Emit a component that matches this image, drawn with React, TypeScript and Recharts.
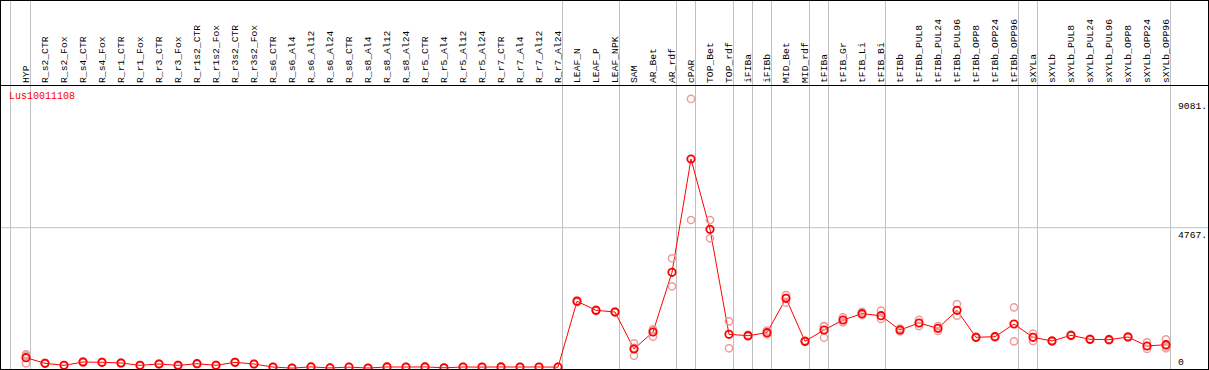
import React from "react";
import {
  ComposedChart,
  Line,
  Scatter,
  XAxis,
  YAxis,
  ReferenceLine,
} from "recharts";

const geneName = "Lus10011108";

const categories = [
  "HYP", "R_s2_CTR", "R_s2_Fox", "R_s4_CTR", "R_s4_Fox", "R_r1_CTR", "R_r1_Fox",
  "R_r3_CTR", "R_r3_Fox", "R_r1s2_CTR", "R_r1s2_Fox", "R_r3s2_CTR", "R_r3s2_Fox",
  "R_s6_CTR", "R_s6_Al4", "R_s6_Al12", "R_s6_Al24", "R_s8_CTR", "R_s8_Al4",
  "R_s8_Al12", "R_s8_Al24", "R_r5_CTR", "R_r5_Al4", "R_r5_Al12", "R_r5_Al24",
  "R_r7_CTR", "R_r7_Al4", "R_r7_Al12", "R_r7_Al24", "LEAF_N", "LEAF_P",
  "LEAF_NPK", "SAM", "AR_Bet", "AR_rdf", "cPAR", "TOP_Bet", "TOP_rdf", "iFIBa",
  "iFIBb", "MID_Bet", "MID_rdf", "tFIBa", "tFIB_Gr", "tFIB_Li", "tFIB_Bi",
  "tFIBb", "tFIBb_PUL8", "tFIBb_PUL24", "tFIBb_PUL96", "tFIBb_OPP8",
  "tFIBb_OPP24", "tFIBb_OPP96", "sXYLa", "sXYLb", "sXYLb_PUL8", "sXYLb_PUL24",
  "sXYLb_PUL96", "sXYLb_OPP8", "sXYLb_OPP24", "sXYLb_OPP96",
];

const meanValues = [
  412, 224, 157, 268, 258, 235, 157, 201, 157, 211, 157, 258, 201,
  98, 64, 104, 70, 96, 66, 102, 99, 103, 75, 100, 97, 102, 99, 101, 96,
  2302, 2000, 1943, 704, 1273, 3273, 7069, 4714, 1196, 1149, 1250, 2402, 961,
  1340, 1675, 1886, 1819, 1340, 1575, 1396, 2000, 1095, 1116, 1541,
  1095, 972, 1162, 1028, 1015, 1106, 804, 848,
];

const replicateValues = [
  [526, 224, 486], [240, 208], [150, 165], [290, 246], [270, 246], [250, 220],
  [165, 150], [215, 188], [175, 140], [225, 198], [170, 145], [270, 246], [210, 192],
  [106, 90], [72, 56], [112, 96], [78, 62], [104, 88], [74, 58], [110, 94],
  [107, 91], [111, 95], [83, 67], [108, 92], [105, 89], [110, 94], [107, 91],
  [109, 93], [104, 88],
  [2330, 2275], [2020, 1980], [1960, 1925], [894, 479, 739], [1364, 1116, 1340],
  [3742, 2804], [9081, 5025], [5025, 4412], [1631, 727], [1175, 1125], [1317, 1196],
  [2513, 2255], [985, 940], [1474, 1082, 1464], [1765, 1598], [1950, 1840],
  [1987, 1709], [1390, 1290], [1680, 1470], [1307, 1470], [2211, 1819],
  [1110, 1080], [1130, 1100], [2100, 961], [1216, 972], [990, 955], [1180, 1145],
  [1045, 1010], [1035, 995], [1125, 1090], [928, 704], [1028, 727, 790],
];

// y-axis labels shown on the right
const tickValues = [0, 4767, 9081];

// category index after which a group separator is drawn
const groupBreaks = [0, 28, 31, 34, 35, 37, 38, 39, 41, 42, 45, 52, 53, 60];

const chartData = categories.map((name, i) => ({ x: i, name, mean: meanValues[i] }));
const replicateData = replicateValues.flatMap((reps, i) =>
  reps.map((v) => ({ x: i, rep: v }))
);

const MONO = "'Liberation Mono', 'DejaVu Sans Mono', monospace";

const CategoryTick = (props: any) => {
  const { x, payload } = props;
  return (
    <text
      transform={`translate(${Math.round(x) + 3},83) rotate(-90)`}
      textAnchor="start"
      fontFamily={MONO}
      fontSize={9.7}
      fill="#000"
    >
      {categories[payload.value]}
    </text>
  );
};

const ValueTick = (props: any) => {
  const { y, payload } = props;
  const v = payload.value;
  return (
    <text
      x={1178}
      y={Math.min(y + 10, 365)}
      fontFamily={MONO}
      fontSize={9.7}
      fill="#000"
    >
      {v === 0 ? "0" : `${v}.`}
    </text>
  );
};

const MeanDot = (props: any) => (
  <circle
    key={`m-${props.index}`}
    cx={props.cx}
    cy={props.cy}
    r={3.7}
    fill="none"
    stroke="#ff0000"
    strokeWidth={1.8}
  />
);

const RepDot = (props: any) => (
  <circle
    cx={props.cx}
    cy={props.cy}
    r={3.6}
    fill="none"
    stroke="#f09a9a"
    strokeWidth={1.5}
  />
);

export default function App() {
  return (
    <div style={{ position: "relative", width: 1209, height: 370, background: "#fff" }}>
      <style>{"body{margin:0}"}</style>
      <ComposedChart
        width={1209}
        height={370}
        data={chartData}
        margin={{ top: 0, right: 0, bottom: 0, left: 0 }}
      >
        <XAxis
          dataKey="x"
          type="number"
          orientation="top"
          mirror
          height={30}
          domain={[-26 / 19, 1183 / 19]}
          allowDataOverflow
          ticks={categories.map((_, i) => i)}
          interval={0}
          tick={CategoryTick}
          axisLine={false}
          tickLine={false}
        />
        <YAxis
          type="number"
          orientation="right"
          mirror
          width={40}
          domain={[0, 12395]}
          allowDataOverflow
          ticks={tickValues}
          interval={0}
          tick={ValueTick}
          axisLine={false}
          tickLine={false}
        />
        <ReferenceLine x={-15.5 / 19} stroke="#c0c0c0" strokeWidth={1} />
        {groupBreaks.map((b) => (
          <ReferenceLine key={b} x={b + 4.5 / 19} stroke="#c0c0c0" strokeWidth={1} />
        ))}
        <ReferenceLine y={4767} stroke="#c0c0c0" strokeWidth={1} />
        <Scatter
          data={replicateData}
          dataKey="rep"
          shape={RepDot}
          isAnimationActive={false}
        />
        <Line
          type="linear"
          dataKey="mean"
          stroke="#ff0000"
          strokeWidth={1}
          dot={MeanDot}
          activeDot={false}
          isAnimationActive={false}
        />
      </ComposedChart>
      <div
        style={{
          position: "absolute",
          left: 9,
          top: 91,
          fontFamily: MONO,
          fontSize: 10,
          lineHeight: "11px",
          color: "#ff0000",
        }}
      >
        {geneName}
      </div>
      <div
        style={{
          position: "absolute",
          left: 0,
          top: 85,
          width: 1209,
          height: 1,
          background: "#000",
        }}
      />
      <div
        style={{
          position: "absolute",
          inset: 0,
          border: "1px solid #000",
          boxSizing: "border-box",
          pointerEvents: "none",
        }}
      />
    </div>
  );
}
